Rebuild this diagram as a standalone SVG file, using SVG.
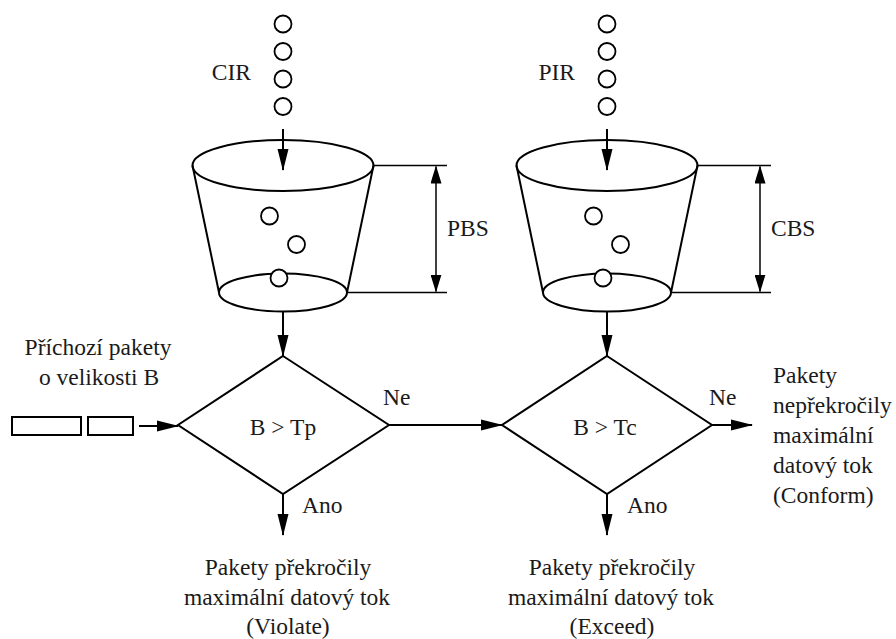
<svg xmlns="http://www.w3.org/2000/svg" width="896" height="639" viewBox="0 0 896 639">
<style>
  .s { fill: none; stroke: #000; stroke-width: 2; }
  .w { fill: #fff; stroke: #000; stroke-width: 1.8; }
  .d { fill: none; stroke: #000; stroke-width: 1.5; }
  .t { font-family: 'Liberation Serif', 'DejaVu Serif', 'Times New Roman', Times, serif; font-size: 23.5px; fill: #1a1a1a; }
  .c { text-anchor: middle; }
  .e { text-anchor: end; }
  .a { fill: none; stroke: #000; stroke-width: 2; marker-end: url(#ah); }
  .dim { fill: none; stroke: #000; stroke-width: 1.5; marker-start: url(#dh); marker-end: url(#dh); }
</style>
<defs>
  <marker id="ah" markerUnits="userSpaceOnUse" markerWidth="22" markerHeight="12" refX="21" refY="6" orient="auto">
    <path d="M0,0.5 L22,6 L0,11.5 z" fill="#000"/>
  </marker>
  <marker id="dh" markerUnits="userSpaceOnUse" markerWidth="18" markerHeight="11" refX="17" refY="5.5" orient="auto-start-reverse">
    <path d="M0,0 L18,5.5 L0,11 z" fill="#000"/>
  </marker>
  <g id="bucket">
    <ellipse class="s" cx="283" cy="165.5" rx="90.5" ry="25.5"/>
    <line class="s" x1="192.5" y1="165.5" x2="219" y2="292.5"/>
    <line class="s" x1="373.5" y1="165.5" x2="347" y2="292.5"/>
    <ellipse class="s" cx="283" cy="292.5" rx="64" ry="19"/>
    <circle class="w" cx="269.5" cy="216" r="8.5"/>
    <circle class="w" cx="296.5" cy="244.5" r="8.5"/>
    <circle class="w" cx="279" cy="278" r="8.5"/>
  </g>
  <g id="drops">
    <circle class="w" cx="283" cy="24" r="8.5"/>
    <circle class="w" cx="283" cy="51.5" r="8.5"/>
    <circle class="w" cx="283" cy="79" r="8.5"/>
    <circle class="w" cx="283" cy="106.5" r="8.5"/>
  </g>
</defs>

<g id="bucket-cir">
  <use href="#drops"/>
  <use href="#bucket"/>
  <text class="t e" x="251" y="80">CIR</text>
</g>
<g id="bucket-pir" transform="translate(324,0)">
  <use href="#drops"/>
  <use href="#bucket"/>
  <text class="t e" x="251" y="80">PIR</text>
</g>

<g id="dim-pbs">
  <line class="d" x1="374" y1="165.5" x2="447" y2="165.5"/>
  <line class="d" x1="347" y1="292.5" x2="447" y2="292.5"/>
  <line class="dim" x1="436" y1="166.5" x2="436" y2="291.5"/>
  <text class="t" x="447" y="236">PBS</text>
</g>
<g id="dim-cbs">
  <line class="d" x1="698" y1="165.5" x2="771" y2="165.5"/>
  <line class="d" x1="671" y1="292.5" x2="771" y2="292.5"/>
  <line class="dim" x1="760" y1="166.5" x2="760" y2="291.5"/>
  <text class="t" x="771" y="236">CBS</text>
</g>

<g id="packets">
  <rect class="s" x="12" y="417" width="69" height="18"/>
  <rect class="s" x="88" y="417" width="45" height="18"/>
  <text class="t c" x="98" y="355">Příchozí pakety</text>
  <text class="t c" x="99" y="385">o velikosti B</text>
</g>

<g id="decision-tp">
  <polygon class="s" points="283,356 389,425 283,494 178,425"/>
  <text class="t c" x="283" y="435">B &gt; Tp</text>
</g>
<g id="decision-tc">
  <polygon class="s" points="607,356 712,425 607,494 502,425"/>
  <text class="t c" x="605" y="435">B &gt; Tc</text>
</g>

<g id="out-violate">
  <text class="t c" x="288" y="575">Pakety překročily</text>
  <text class="t c" x="287" y="605">maximální datový tok</text>
  <text class="t c" x="288" y="634">(Violate)</text>
</g>
<g id="out-exceed">
  <text class="t c" x="612" y="575">Pakety překročily</text>
  <text class="t c" x="611" y="605">maximální datový tok</text>
  <text class="t c" x="612" y="634">(Exceed)</text>
</g>
<g id="out-conform">
  <text class="t" x="773" y="383">Pakety</text>
  <text class="t" x="773" y="413">nepřekročily</text>
  <text class="t" x="773" y="443">maximální</text>
  <text class="t" x="773" y="473">datový tok</text>
  <text class="t" x="773" y="503">(Conform)</text>
</g>

<g id="connectors">
  <line class="a" x1="283" y1="129" x2="283" y2="170"/>
  <line class="a" x1="607" y1="129" x2="607" y2="170"/>
  <line class="a" x1="283" y1="312" x2="283" y2="356"/>
  <line class="a" x1="607" y1="312" x2="607" y2="356"/>
  <line class="a" x1="139" y1="426" x2="178" y2="426"/>
  <line class="a" x1="389" y1="425" x2="502" y2="425"/>
  <line class="a" x1="712" y1="425" x2="752" y2="425"/>
  <line class="a" x1="283" y1="494" x2="283" y2="535"/>
  <line class="a" x1="607" y1="494" x2="607" y2="535"/>
  <text class="t" x="383" y="405">Ne</text>
  <text class="t" x="709" y="405">Ne</text>
  <text class="t" x="302" y="513">Ano</text>
  <text class="t" x="627" y="513">Ano</text>
</g>
</svg>
